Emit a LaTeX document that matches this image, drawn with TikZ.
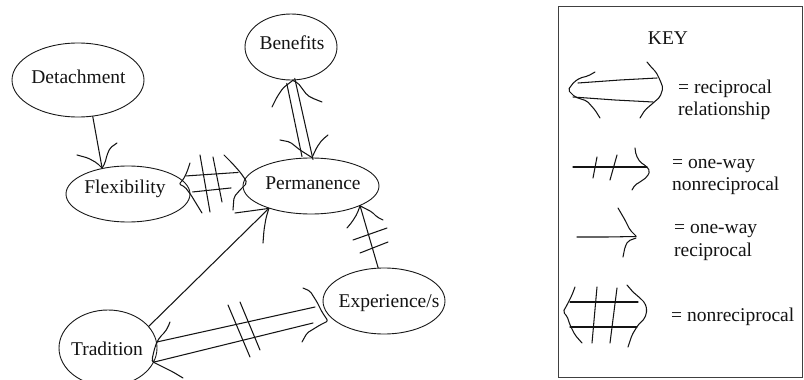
\documentclass[tikz,border=0pt]{standalone}
\usepackage{fontspec}
\setmainfont{Liberation Serif}
\usetikzlibrary{shapes.geometric,calc}
\begin{document}
\begin{tikzpicture}[x=1pt,y=-1pt,
  ell/.style={ellipse,draw=black!90,line width=0.9pt,inner sep=0pt},
  lbl/.style={font=\fontsize{19.5}{22}\selectfont,inner sep=0pt,text=black!92},
  ln/.style={draw=black!92,line width=1.05pt,line cap=round,line join=round},
  barb/.style={ln,rounded corners=2pt},
  ktext/.style={lbl,anchor=base west}]
\useasboundingbox (0,0) rectangle (804,380);
\fill[white] (0,0) rectangle (804,380);

% ---------- concept ellipses ----------
\node[ell,minimum width=132pt,minimum height=74pt] (det)  at (78,80)   {};
\node[ell,minimum width=92pt, minimum height=66pt] (ben)  at (291,47)  {};
\node[ell,minimum width=124pt,minimum height=56pt] (flex) at (128,194) {};
\node[ell,minimum width=136pt,minimum height=56pt] (perm) at (311,186) {};
\node[ell,minimum width=122pt,minimum height=66pt] (exp)  at (384,301) {};
\node[ell,minimum width=98pt, minimum height=76pt] (trad) at (108,348) {};

\node[lbl,anchor=base] (detT)  at (78.5,83) {Detachment};
\node[lbl,anchor=base] (benT)  at (292,49)  {Benefits};
\node[lbl,anchor=base] (flexT) at (125,193) {Flexibility};
\node[lbl,anchor=base] (permT) at (313,189) {Permanence};
\node[lbl,anchor=base] (tradT) at (107,355) {Tradition};
\node[lbl,anchor=base] (expT)  at (389,307) {Experience/s};

% ---------- Detachment -> Flexibility (one-way reciprocal) ----------
\draw[ln] (det.-68) -- (flex.135);
\draw[barb] (77,155) -- (88,158) -- (97,163) -- (flex.135);
\draw[barb] (117,143) -- (110,148) -- (107,155) -- (105,163) -- (flex.135);

% ---------- Benefits <-> Permanence (reciprocal) ----------
\draw[ln] ($(ben.-87)+(-6,3)$) -- ($(perm.88)+(-10,-1)$);
\draw[ln] ($(ben.-87)+(2,-2)$) -- ($(perm.88)+(1,2)$);
\draw[barb] (272,107) -- (277,97) -- (283,88) -- (ben.-87);
\draw[barb] (322,102) -- (312,98) -- (307,95) -- (298,83) -- (ben.-87);
\draw[barb] (280,140) -- (290,142) -- (300,150) -- (perm.88);
\draw[barb] (328,135) -- (322,140) -- (317,147) -- (perm.88);

% ---------- Flexibility <-> Permanence (nonreciprocal) ----------
\draw[ln] ($(flex.12)+(1,-6)$) -- ($(perm.177)+(-5,-10)$);
\draw[ln] ($(flex.12)+(8,10)$) -- ($(perm.177)+(-12,5.5)$);
\draw[barb] (190,163) -- (187,172) -- (183,180) -- (179,184) -- (185,187) -- (191,195) -- (202,213);
\draw[ln] (200,155) -- (210,212);
\draw[ln] (213,157) -- (222,202);
\draw[barb] (224,155) -- (232,163) -- (240,172) -- (245,179) -- (247,183) -- (240,190) -- (234,197) -- (233,210);

% ---------- Tradition -> Permanence (one-way reciprocal) ----------
\draw[ln] (trad.28) -- (perm.208);
\draw[barb] (235,213) -- (250,211) -- (perm.208);
\draw[barb] (263,243) -- (264,230) -- (266,218) -- (perm.208);

% ---------- Experience/s -> Permanence (one-way nonreciprocal) ----------
\draw[ln] (exp.100) -- (perm.-22);
\draw[barb] (347,228) -- (352,222) -- (357,214) -- (perm.-22);
\draw[barb] (383,220) -- (377,217) -- (372,212) -- (perm.-22);
\draw[ln] (353,240) -- (387,228);
\draw[ln] (360,253) -- (388,242);

% ---------- Tradition <-> Experience/s (nonreciprocal) ----------
\coordinate (e1) at (315,307);
\coordinate (e2) at (313,323);
\draw[ln] (trad.7) -- (e1);
\draw[ln] (trad.-17) -- (e2);
\draw[ln] (228,305) -- (250,357);
\draw[ln] (240,302) -- (260,350);
\draw[barb] (303,288) -- (310,291) -- (317,302) -- (322,312) -- (328,321) -- (320,325) -- (307,333) -- (302,342);
\draw[barb] (170,322) -- (168,327) -- (165,332) -- (160,337) -- (157,342) -- (155,347) -- (153,355) -- (152,360) -- (153,362) -- (163,367) -- (173,372) -- (183,378);

% ---------- KEY ----------
\draw[draw=black!75,line width=0.9pt] (558,6) rectangle (802,377);
\node[lbl,anchor=base] (keyT) at (668,45) {KEY};

% reciprocal
\draw[ln] (578,83) -- (620,80) -- (657,78);
\draw[ln] (573,97) -- (615,100) -- (653,102);
\draw[barb] (595,72) -- (588,76) -- (580,78) -- (574,82) -- (568,90) -- (575,97) -- (587,101) -- (595,110) -- (600,118);
\draw[barb] (647,62) -- (652,68) -- (656,72) -- (660,80) -- (663,88) -- (660,97) -- (652,104) -- (645,110) -- (640,118);
\node[ktext] (k1a) at (678,93) {= reciprocal};
\node[ktext] (k1b) at (678,115.5) {relationship};

% one-way nonreciprocal
\draw[ln] (573,167) -- (647,167);
\draw[ln] (597,157) -- (593,178);
\draw[ln] (617,155) -- (610,180);
\draw[barb] (635,148) -- (636,155) -- (640,162) -- (646,166) -- (650,171) -- (647,177) -- (640,182) -- (635,185) -- (632,190);
\node[ktext] (k2a) at (672,168) {= one-way};
\node[ktext] (k2b) at (672,190.5) {nonreciprocal};

% one-way reciprocal
\draw[ln] (577,237) -- (607,237) -- (636,236.5);
\draw[barb] (618,208) -- (625,220) -- (630,230) -- (636,236);
\draw[barb] (636,238) -- (628,241) -- (625,247) -- (623,257);
\node[ktext] (k3a) at (674,233) {= one-way};
\node[ktext] (k3b) at (674,256) {reciprocal};

% nonreciprocal
\draw[ln] (570,302) -- (638,302);
\draw[ln] (570,327) -- (637,327);
\draw[barb] (575,287) -- (572,295) -- (567,305) -- (563,312) -- (567,316) -- (570,325) -- (575,335) -- (582,343);
\draw[ln] (597,287) -- (592,343);
\draw[ln] (617,288) -- (610,343);
\draw[barb] (627,285) -- (633,292) -- (640,298) -- (645,303) -- (647,310) -- (645,318) -- (638,325) -- (632,335) -- (628,347);
\node[ktext] (k4) at (671,321.5) {= nonreciprocal};
\end{tikzpicture}
\end{document}
